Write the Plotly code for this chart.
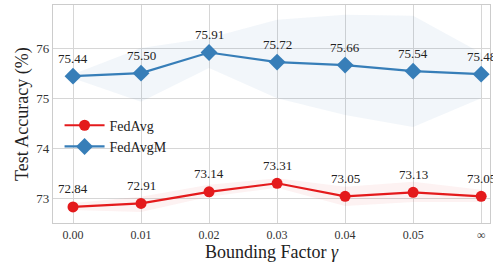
import plotly.graph_objects as go

categories = ["0.00", "0.01", "0.02", "0.03", "0.04", "0.05", "∞"]
fedavg = [72.84, 72.91, 73.14, 73.31, 73.05, 73.13, 73.05]
fedavg_upper = [72.92, 73.04, 73.28, 73.41, 73.24, 73.34, 73.18]
fedavg_lower = [72.78, 72.74, 73.04, 73.22, 72.86, 72.94, 72.94]
fedavgm = [75.44, 75.50, 75.91, 75.72, 75.66, 75.54, 75.48]
fedavgm_upper = [75.48, 76.00, 76.20, 76.56, 76.66, 76.64, 75.90]
fedavgm_lower = [75.40, 74.93, 75.60, 75.00, 74.67, 74.43, 75.00]

RED = "#e41a1c"
BLUE = "#377eb8"
FONT = "Liberation Serif"

x = list(range(len(categories)))
fig = go.Figure()

def band(upper, lower, color):
    fig.add_trace(go.Scatter(x=x + x[::-1], y=upper + lower[::-1], fill="toself",
                             fillcolor=color, line=dict(width=0), mode="lines",
                             hoverinfo="skip", showlegend=False))

band(fedavgm_upper, fedavgm_lower, "rgba(55,126,184,0.065)")
band(fedavg_upper, fedavg_lower, "rgba(228,26,28,0.06)")

fig.add_trace(go.Scatter(x=x, y=fedavg, mode="lines+markers", name="FedAvg",
                         line=dict(color=RED, width=2.2),
                         marker=dict(symbol="circle", size=11, color=RED)))
fig.add_trace(go.Scatter(x=x, y=fedavgm, mode="lines+markers", name="FedAvgM",
                         line=dict(color=BLUE, width=2.2),
                         marker=dict(symbol="diamond", size=13, color=BLUE)))

for series in (fedavg, fedavgm):
    for xi, v in zip(x, series):
        fig.add_annotation(x=xi, y=v, text=f"{v:.2f}", showarrow=False, yshift=18,
                           font=dict(family=FONT, size=13, color="#222"))

fig.add_annotation(xref="paper", yref="paper", x=0.5, y=-0.188, yanchor="bottom",
                   text="Bounding Factor <i>γ</i>", showarrow=False,
                   font=dict(family=FONT, size=18, color="#222"))
fig.add_annotation(xref="paper", yref="paper", x=-0.071, y=0.5, xanchor="center",
                   yanchor="middle",
                   text="Test Accuracy (%)", textangle=-90, showarrow=False,
                   font=dict(family=FONT, size=18, color="#222"))

fig.update_layout(
    width=493, height=264,
    margin=dict(l=53, r=3, t=5, b=41, autoexpand=False),
    paper_bgcolor="white", plot_bgcolor="white",
    font=dict(family=FONT, color="#222"),
    showlegend=True,
    legend=dict(x=0.015, y=0.52, xanchor="left", yanchor="top",
                bgcolor="rgba(0,0,0,0)", font=dict(family=FONT, size=14, color="#222"),
                itemwidth=40, tracegroupgap=0),
)
fig.update_xaxes(range=[-0.294, 6.13], tickmode="array", tickvals=x, ticktext=categories,
                 automargin=False,
                 showgrid=True, gridcolor="#d6d6d6", gridwidth=1.3,
                 showline=True, linecolor="#cccccc", linewidth=1.3, mirror=True,
                 ticks="", zeroline=False, tickfont=dict(family=FONT, size=12, color="#333"))
fig.update_yaxes(range=[72.52, 76.855], tickmode="array", tickvals=[73, 74, 75, 76],
                 automargin=False,
                 showgrid=True, gridcolor="#d6d6d6", gridwidth=1.3,
                 showline=True, linecolor="#cccccc", linewidth=1.3, mirror=True,
                 ticks="", zeroline=False, tickfont=dict(family=FONT, size=13, color="#333"))

fig.write_html("out.html", config={"displayModeBar": False},
               post_script="document.body.style.margin='0';document.body.style.overflow='hidden';")
